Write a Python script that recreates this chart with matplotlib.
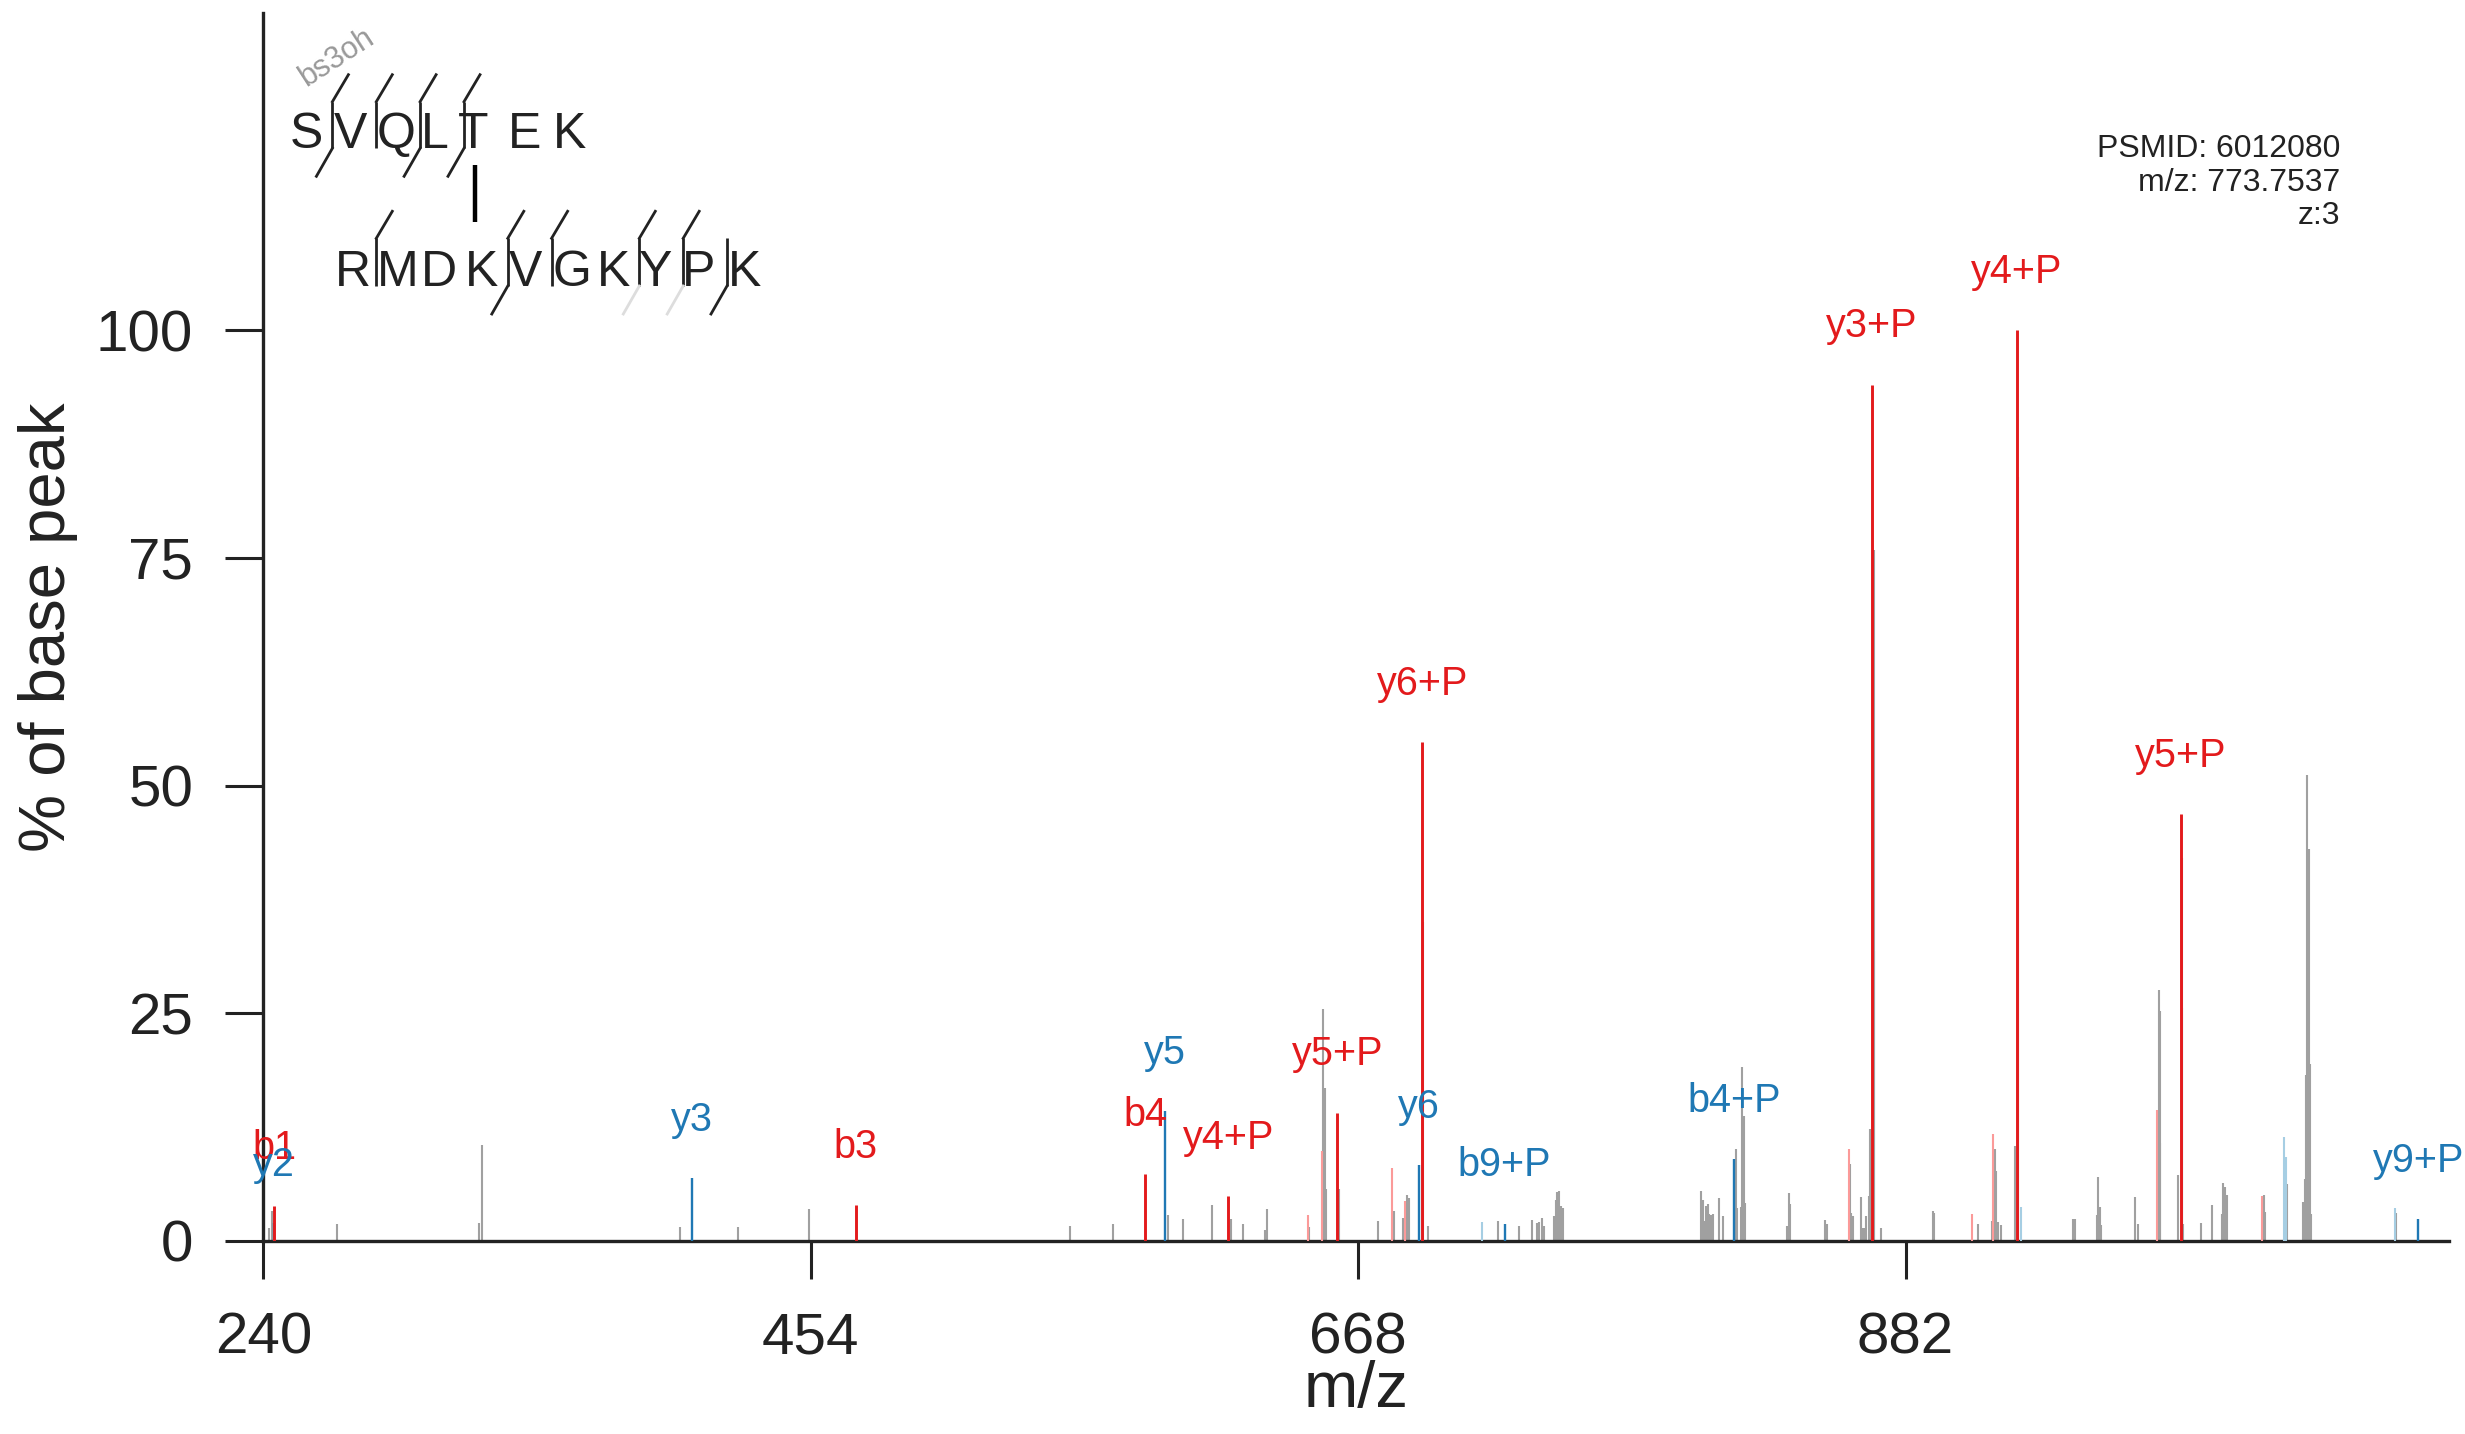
import matplotlib
matplotlib.use("Agg")
import matplotlib.pyplot as plt

plt.rcParams['font.family'] = ['Liberation Sans', 'DejaVu Sans']

# ---------------- data ----------------
gray_mz = [242.3, 243.3, 268.7, 324.2, 325.5, 402.9, 425.7, 453.5, 555.4, 572.3,
           593.7, 599.7, 611.0, 618.2, 623.1, 631.6, 632.5, 648.9, 654.4, 655.0,
           655.4, 660.7, 675.7, 682.0, 685.7, 687.0, 687.7, 693.5, 695.4, 722.5,
           730.8, 736.0, 738.0, 738.8, 739.7, 740.6, 744.6, 745.2, 745.9, 746.7,
           747.3, 748.0, 802.1, 802.7, 803.3, 804.0, 804.7, 805.3, 806.0, 806.6,
           809.2, 810.5, 815.8, 816.3, 817.7, 818.2, 818.8, 819.4, 835.8, 836.3,
           836.9, 850.7, 851.3, 860.3, 860.7, 861.3, 864.7, 865.2, 865.9, 866.4,
           867.6, 868.1, 869.5, 869.7, 872.4, 892.6, 893.2, 910.2, 915.8, 916.9,
           917.4, 918.1, 919.5, 924.7, 925.9, 926.1, 947.6, 948.3, 956.8, 957.4,
           957.9, 958.4, 971.7, 972.7, 980.9, 981.3, 981.6, 988.7, 989.9, 990.2,
           990.6, 997.4, 1001.8, 1005.9, 1006.3, 1006.9, 1007.5, 1022.2, 1022.7, 1031.1,
           1037.5, 1038.2, 1038.6, 1039.0, 1039.6, 1040.0, 1040.5, 1073.9]
gray_int = [1.4, 3.3, 1.9, 2.0, 10.5, 1.5, 1.5, 3.5, 1.6, 1.9,
            2.9, 2.4, 4.0, 2.4, 1.9, 1.2, 3.5, 1.5, 25.5, 16.8,
            5.7, 5.7, 2.2, 3.3, 2.5, 5.0, 4.7, 35.0, 1.7, 2.2,
            1.6, 2.3, 2.0, 2.1, 2.5, 1.6, 2.7, 4.5, 5.4, 5.5,
            3.8, 3.6, 5.5, 4.5, 2.2, 3.8, 4.1, 3.0, 2.9, 3.0,
            4.7, 2.7, 10.1, 3.6, 3.7, 19.1, 13.7, 4.2, 1.7, 5.3,
            4.1, 2.3, 1.9, 8.5, 3.1, 2.7, 4.8, 1.4, 1.4, 2.7,
            4.9, 12.3, 75.8, 31.8, 1.4, 3.3, 3.1, 1.9, 2.2, 10.1,
            7.7, 2.1, 1.8, 10.4, 83.9, 41.6, 2.4, 2.4, 2.9, 7.0,
            3.7, 1.8, 4.8, 1.9, 27.5, 25.2, 10.8, 7.2, 42.0, 25.6,
            1.9, 2.0, 3.9, 3.0, 6.4, 5.9, 5.1, 5.0, 3.2, 6.3,
            4.3, 6.8, 18.2, 51.2, 43.0, 19.4, 3.0, 3.1]

lightred_mz = [648.3, 653.9, 681.4, 686.2, 859.8, 908.1, 916.3, 980.2, 1021.5]
lightred_int = [2.9, 9.9, 8.0, 4.4, 10.1, 3.0, 11.7, 14.4, 4.9]

lightblue_mz = [716.3, 927.1, 1030.0, 1030.6, 1073.2]
lightblue_int = [2.1, 3.7, 11.4, 9.2, 3.6]

red_labels = ['b1', 'b3', 'b4', 'y4+P', 'y5+P', 'y6+P', 'y3+P', 'y4+P', 'y5+P']
red_mz = [244.3, 471.6, 584.7, 617.3, 659.9, 693.1, 868.9, 925.4, 989.5]
red_int = [3.8, 3.9, 7.4, 4.9, 14.1, 54.8, 94.0, 100.0, 46.9]

blue_labels = ['y2', 'y3', 'y5', 'y6', 'b9+P', 'b4+P', 'y9+P']
blue_mz = [244.3, 407.5, 592.6, 691.8, 725.3, 815.1, 1082.5]
blue_int = [2.0, 6.9, 14.3, 8.3, 1.9, 9.0, 2.4]

x_ticks = [240, 454, 668, 882]
y_ticks = [0, 25, 50, 75, 100]

pep1 = list("SVQLTEK")
pep2 = list("RMDKVGKYPK")
pep1_btop = [1, 2, 3, 4]          # gaps (after residue i) with top tail
pep1_ybot = [1, 3, 4]             # gaps with bottom tail
pep2_btop = [1, 4, 5, 7, 8]
pep2_ybot = [4, 9]
pep2_ybot_lost = [7, 8]
info_lines = ["PSMID: 6012080", "m/z: 773.7537", "z:3"]

RED = '#e31a1c'
LRED = '#fb9a99'
BLUE = '#1f78b4'
LBLUE = '#a6cee3'
GRAY = '#a0a0a0'
DARK = '#222222'

# ---------------- figure ----------------
W, H = 2465, 1434
fig = plt.figure(figsize=(W / 100, H / 100), dpi=100)
ax_l, ax_r, ax_b, ax_t = 263.3, 2449, 1241, 12.6
ax = fig.add_axes([ax_l / W, 1 - ax_b / H, (ax_r - ax_l) / W, (ax_b - ax_t) / H])
ax.set_xlim(240, 240 + (ax_r - ax_l) / 2.558)
ax.set_ylim(0, (ax_b - ax_t) / 9.11)

ax.vlines(gray_mz, 0, gray_int, color=GRAY, lw=1.5, zorder=2)
ax.vlines(lightred_mz, 0, lightred_int, color=LRED, lw=1.5, zorder=3)
ax.vlines(lightblue_mz, 0, lightblue_int, color=LBLUE, lw=1.5, zorder=3)
ax.vlines(blue_mz, 0, blue_int, color=BLUE, lw=1.7, zorder=4)
ax.vlines(red_mz, 0, red_int, color=RED, lw=2.1, zorder=5)

for lab, mz, it in zip(red_labels, red_mz, red_int):
    ax.annotate(lab, (mz, it), xytext=(0, 34), textcoords='offset points',
                ha='center', va='baseline', color=RED, fontsize=28.5, zorder=6)
for lab, mz, it in zip(blue_labels, blue_mz, blue_int):
    ax.annotate(lab, (mz, it), xytext=(0, 34), textcoords='offset points',
                ha='center', va='baseline', color=BLUE, fontsize=28.5, zorder=6,
                annotation_clip=False)

for s in ['top', 'right']:
    ax.spines[s].set_visible(False)
for s in ['left', 'bottom']:
    ax.spines[s].set_linewidth(2.4)
    ax.spines[s].set_color(DARK)
ax.set_xticks(x_ticks)
ax.set_yticks(y_ticks)
ax.tick_params(direction='out', length=27.5, width=2.2, pad=23, labelsize=42,
               colors=DARK)

ax.set_xlabel('m/z', fontsize=47, color=DARK)
ax.xaxis.set_label_coords(0.5, (ax_b - 1407) / (ax_b - ax_t))
ax.xaxis.label.set_va('baseline')
ax.set_ylabel('% of base peak', fontsize=47, color=DARK)
ax.yaxis.set_label_coords((48 - ax_l) / (ax_r - ax_l), 0.5)
ax.yaxis.label.set_va('center')

# ---------------- overlay in pixel coordinates ----------------
ov = fig.add_axes([0, 0, 1, 1], facecolor='none')
ov.set_xlim(0, W)
ov.set_ylim(H, 0)
ov.axis('off')

pep1_x = [306, 350.5, 396, 435, 473, 525, 570]
pep2_x = [352.5, 398, 439, 482, 525, 572, 614, 656, 699, 744.5]
for ch, x in zip(pep1, pep1_x):
    ov.text(x, 148.3, ch, ha='center', va='baseline', fontsize=36, color=DARK)
for ch, x in zip(pep2, pep2_x):
    ov.text(x, 286, ch, ha='center', va='baseline', fontsize=36, color=DARK)

pep1_gap_x = [332.4, 376.3, 420.1, 464.0, 0, 0]
pep2_gap_x = [376.3, 0, 0, 507.8, 551.6, 0, 639.3, 683.2, 727.0]


def marker(gx, y0, y1, top, bot, botcol):
    ov.plot([gx, gx], [y0, y1], color=DARK, lw=2.0, solid_capstyle='butt')
    if top:
        ov.plot([gx, gx + 16], [y0, y0 - 27], color=DARK, lw=2.0)
    if bot:
        ov.plot([gx, gx - 16], [y1, y1 + 28], color=botcol, lw=2.0)


for g in sorted(set(pep1_btop) | set(pep1_ybot)):
    marker(pep1_gap_x[g - 1], 101.7, 148.3, g in pep1_btop, g in pep1_ybot, DARK)
for g in sorted(set(pep2_btop) | set(pep2_ybot) | set(pep2_ybot_lost)):
    lost = g in pep2_ybot_lost
    marker(pep2_gap_x[g - 1], 238.3, 286, g in pep2_btop,
           (g in pep2_ybot) or lost, '#dddddd' if lost else DARK)

# cross-link
ov.plot([474.5, 474.5], [165, 221.7], color='black', lw=3.2, solid_capstyle='butt')

ov.text(337, 58, 'bs3oh', rotation=33, ha='center', va='center',
        fontsize=22, color='#999999')

for line, yb in zip(info_lines, [156.7, 191, 224.3]):
    ov.text(2340, yb, line, ha='right', va='baseline', fontsize=23, color=DARK)

fig.savefig('out.png', dpi=100)
